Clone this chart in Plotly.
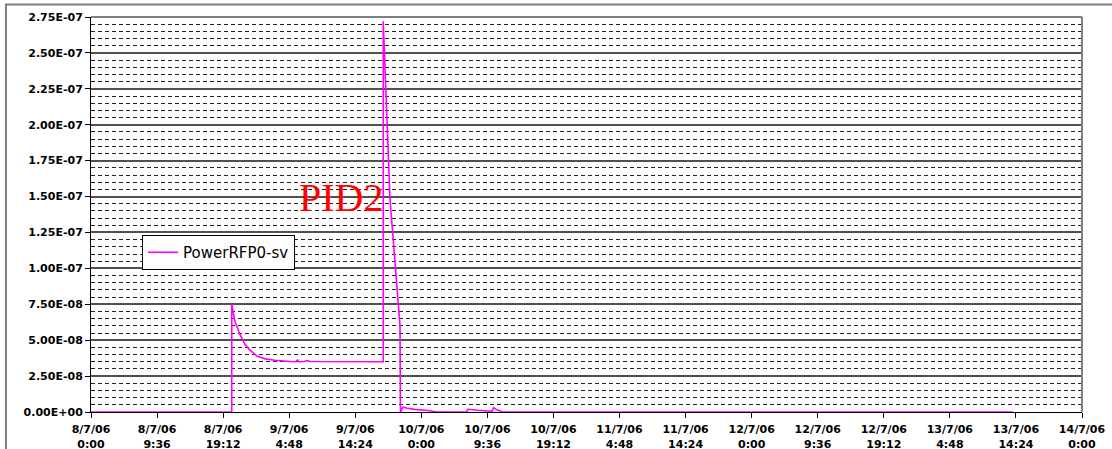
import plotly.graph_objects as go

# ---- data ----
times = [
    "2006-07-08 00:00", "2006-07-08 20:27", "2006-07-08 20:27", "2006-07-08 20:38",
    "2006-07-08 20:55", "2006-07-08 21:39", "2006-07-08 22:23", "2006-07-08 23:06",
    "2006-07-09 00:07", "2006-07-09 01:17", "2006-07-09 02:44", "2006-07-09 04:55",
    "2006-07-09 05:50", "2006-07-09 06:00", "2006-07-09 06:10", "2006-07-09 07:00",
    "2006-07-09 07:20", "2006-07-09 07:50", "2006-07-09 18:28", "2006-07-09 18:28",
    "2006-07-09 19:27", "2006-07-09 20:10", "2006-07-09 20:54", "2006-07-09 20:58",
    "2006-07-09 21:20", "2006-07-09 22:00", "2006-07-09 23:00", "2006-07-10 00:58",
    "2006-07-10 02:17", "2006-07-10 06:35", "2006-07-10 06:45", "2006-07-10 08:14",
    "2006-07-10 09:32", "2006-07-10 10:16", "2006-07-10 10:30", "2006-07-10 11:00",
    "2006-07-10 11:50", "2006-07-13 13:58",
]
power = [
    0.0, 0.0, 7.5e-8, 6.9e-8,
    6.3e-8, 5.4e-8, 4.7e-8, 4.3e-8,
    3.9e-8, 3.7e-8, 3.6e-8, 3.52e-8,
    3.5e-8, 3.65e-8, 3.5e-8, 3.52e-8,
    3.58e-8, 3.52e-8, 3.5e-8, 2.72e-7,
    1.48e-7, 1.05e-7, 6.0e-8, 0.0,
    3.3e-9, 2.6e-9, 1.8e-9, 1.0e-9,
    0.0, 0.0, 1.9e-9, 1.2e-9,
    0.6e-9, 0.5e-9, 3.0e-9, 1.5e-9,
    0.0, 0.0,
]
series_name = "PowerRFP0-sv"

y_tick_vals = [0.0, 2.5e-8, 5.0e-8, 7.5e-8, 1.0e-7, 1.25e-7, 1.5e-7,
               1.75e-7, 2.0e-7, 2.25e-7, 2.5e-7, 2.75e-7]
y_tick_text = ["0.00E+00", "2.50E-08", "5.00E-08", "7.50E-08", "1.00E-07",
               "1.25E-07", "1.50E-07", "1.75E-07", "2.00E-07", "2.25E-07",
               "2.50E-07", "2.75E-07"]

x_tick_vals = [
    "2006-07-08 00:00", "2006-07-08 09:36", "2006-07-08 19:12", "2006-07-09 04:48",
    "2006-07-09 14:24", "2006-07-10 00:00", "2006-07-10 09:36", "2006-07-10 19:12",
    "2006-07-11 04:48", "2006-07-11 14:24", "2006-07-12 00:00", "2006-07-12 09:36",
    "2006-07-12 19:12", "2006-07-13 04:48", "2006-07-13 14:24", "2006-07-14 00:00",
]
x_tick_text = [
    "8/7/06<br>0:00", "8/7/06<br>9:36", "8/7/06<br>19:12", "9/7/06<br>4:48",
    "9/7/06<br>14:24", "10/7/06<br>0:00", "10/7/06<br>9:36", "10/7/06<br>19:12",
    "11/7/06<br>4:48", "11/7/06<br>14:24", "12/7/06<br>0:00", "12/7/06<br>9:36",
    "12/7/06<br>19:12", "13/7/06<br>4:48", "13/7/06<br>14:24", "14/7/06<br>0:00",
]
annotation_text = "PID2"

# ---- figure ----
fig = go.Figure()
fig.add_trace(go.Scatter(
    x=times, y=power, mode="lines", name=series_name,
    line=dict(color="#FF00FF", width=1.6),
    showlegend=True,
))

tick_font = dict(family="DejaVu Sans", size=11, color="black", weight="bold")

fig.update_layout(
    width=1112, height=449,
    margin=dict(l=91, r=30, t=17, b=37, autoexpand=False),
    paper_bgcolor="white", plot_bgcolor="white",
    showlegend=True,
    legend=dict(
        x=0.0515, y=0.448, xanchor="left", yanchor="top",
        bgcolor="white", bordercolor="black", borderwidth=1,
        font=dict(family="DejaVu Sans", size=15, color="black"),
        itemwidth=30,
    ),
    xaxis=dict(
        type="date", automargin=False,
        range=["2006-07-08 00:00", "2006-07-14 00:00"],
        tickmode="array", tickvals=x_tick_vals, ticktext=x_tick_text,
        ticks="outside", ticklen=5, tickcolor="black", tickwidth=1,
        showline=True, linecolor="black", linewidth=1,
        showgrid=False, zeroline=False,
        tickfont=tick_font,
        ticklabelstandoff=2,
    ),
    yaxis=dict(
        range=[0, 2.75e-7], automargin=False,
        tickmode="array", tickvals=y_tick_vals, ticktext=y_tick_text,
        ticks="outside", ticklen=5, tickcolor="black", tickwidth=1,
        showline=True, linecolor="black", linewidth=1,
        showgrid=True, gridcolor="#505050", gridwidth=1.5,
        zeroline=False,
        tickfont=tick_font,
        minor=dict(
            tickmode="linear", tick0=0, dtick=5e-9,
            showgrid=True, gridcolor="#222222", gridwidth=1,
            griddash="4px,3px", ticks="",
        ),
    ),
    shapes=[
        # gray right / top border of plot area
        dict(type="line", xref="paper", yref="paper", x0=1, x1=1, y0=0, y1=1,
             line=dict(color="#808080", width=2)),
        dict(type="line", xref="paper", yref="paper", x0=0, x1=1, y0=1, y1=1,
             line=dict(color="#808080", width=2)),
        # outer chart frame
        dict(type="rect", xref="paper", yref="paper",
             x0=-0.0858, x1=1.04, y0=-0.11, y1=1.0316,
             line=dict(color="#808080", width=2), fillcolor="rgba(0,0,0,0)"),
    ],
    annotations=[
        dict(text=annotation_text, xref="paper", yref="paper",
             x=0.2523, y=0.543, xanchor="center", yanchor="middle",
             showarrow=False,
             font=dict(family="Liberation Serif", size=40, color="red")),
    ],
)

fig.write_html("out.html", config={"displayModeBar": False},
               post_script="document.body.style.margin='0';")
